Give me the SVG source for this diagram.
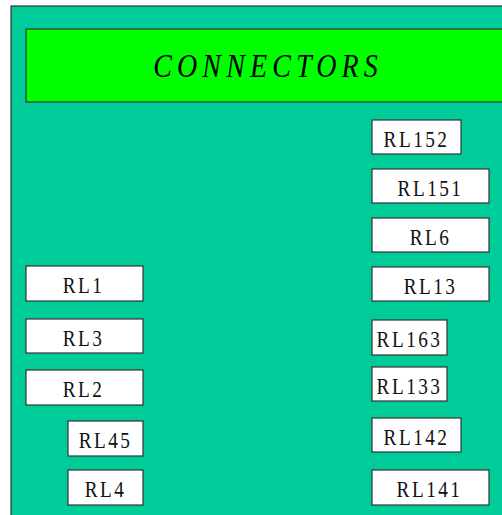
<svg xmlns="http://www.w3.org/2000/svg" width="502" height="515" viewBox="0 0 502 515">
<style>
.box{fill:#ffffff;stroke:#333333;stroke-width:1.2}
.lbl{font-family:"Liberation Serif","Times New Roman",serif;font-size:23.5px;letter-spacing:3px;fill:#111111;text-anchor:middle}
.title{font-family:"Liberation Serif","Times New Roman",serif;font-size:33px;font-style:italic;letter-spacing:6px;fill:#000000;text-anchor:middle}
</style>
<rect x="11" y="6" width="500" height="520" fill="#00CC99" stroke="#333333" stroke-width="1.2"/>
<g id="title">
<rect x="26" y="29" width="490" height="73" fill="#00FF00" stroke="#333333" stroke-width="1.2"/>
<text class="title" transform="translate(268 77) scale(0.85 1)">CONNECTORS</text>
</g>
<g id="connectors"></g>
<g id="RL152"><rect class="box" x="372" y="120" width="89" height="34"/><text class="lbl" transform="translate(416.5 147) scale(0.82 1)">RL152</text></g>
<g id="RL151"><rect class="box" x="372" y="169" width="117" height="34"/><text class="lbl" transform="translate(430.5 196) scale(0.82 1)">RL151</text></g>
<g id="RL6"><rect class="box" x="372" y="218" width="117" height="34"/><text class="lbl" transform="translate(430.5 245) scale(0.82 1)">RL6</text></g>
<g id="RL13"><rect class="box" x="372" y="267" width="117" height="34"/><text class="lbl" transform="translate(430.5 294) scale(0.82 1)">RL13</text></g>
<g id="RL163"><rect class="box" x="372" y="320" width="75" height="35"/><text class="lbl" transform="translate(409.5 347) scale(0.82 1)">RL163</text></g>
<g id="RL133"><rect class="box" x="372" y="367" width="75" height="34"/><text class="lbl" transform="translate(409.5 394) scale(0.82 1)">RL133</text></g>
<g id="RL142"><rect class="box" x="372" y="418" width="89" height="34"/><text class="lbl" transform="translate(416.5 445) scale(0.82 1)">RL142</text></g>
<g id="RL141"><rect class="box" x="372" y="470" width="117" height="35"/><text class="lbl" transform="translate(429.5 497) scale(0.82 1)">RL141</text></g>
<g id="RL1"><rect class="box" x="26" y="266" width="117" height="35"/><text class="lbl" transform="translate(83.5 293) scale(0.82 1)">RL1</text></g>
<g id="RL3"><rect class="box" x="26" y="319" width="117" height="34"/><text class="lbl" transform="translate(83.5 346) scale(0.82 1)">RL3</text></g>
<g id="RL2"><rect class="box" x="26" y="370" width="117" height="35"/><text class="lbl" transform="translate(83.5 397) scale(0.82 1)">RL2</text></g>
<g id="RL45"><rect class="box" x="68" y="421" width="75" height="35"/><text class="lbl" transform="translate(105.5 448) scale(0.82 1)">RL45</text></g>
<g id="RL4"><rect class="box" x="68" y="470" width="75" height="35"/><text class="lbl" transform="translate(105.5 497) scale(0.82 1)">RL4</text></g>
</svg>
